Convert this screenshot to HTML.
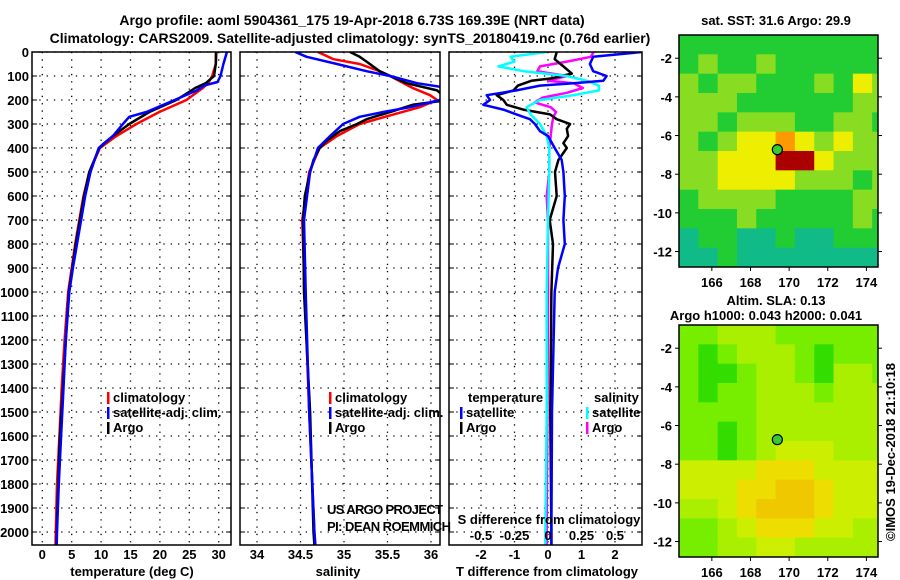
<!DOCTYPE html>
<html><head><meta charset="utf-8">
<style>
html,body{margin:0;padding:0;background:#fff;}
svg{display:block;font-family:"Liberation Sans",Arial,sans-serif;}
.t{font-size:14px;font-weight:bold;}
.lab{font-size:13px;font-weight:bold;}
</style></head>
<body>
<svg id="fig" width="900" height="580" viewBox="0 0 900 580" xmlns="http://www.w3.org/2000/svg">
<text x="352" y="25" text-anchor="middle" class="t">Argo profile: aoml 5904361_175 19-Apr-2018 6.73S 169.39E (NRT data)</text>
<text x="350" y="43" text-anchor="middle" class="t">Climatology: CARS2009. Satellite-adjusted climatology: synTS_20180419.nc (0.76d earlier)</text>
<g id="root"></g>
</svg>
<script>
// ---- data (depth in m) ----
const depthTicks=[0,100,200,300,400,500,600,700,800,900,1000,1100,1200,1300,1400,1500,1600,1700,1800,1900,2000];
const tTicks=[0,5,10,15,20,25,30];
const sTicks=[34,34.5,35,35.5,36];
const sTickLabels=["34","34.5","35","35.5","36"];
const dTicks=[-2,-1,0,1,2];
const dsTicks=[-0.5,-0.25,0,0.25,0.5];
const dsTickLabels=["-0.5","-0.25","0","0.25","0.5"];

const tempArgoDepth=[0,50,100,130,150,200,250,300,350,400,500,600,700,800,900,1000,1200,1400,1600,1800,2000,2054];
const tempArgo=[29.6,29.5,29.2,27.8,26.0,22.8,18.2,14.8,12.0,9.7,8.0,7.1,6.4,5.7,5.1,4.5,4.0,3.5,3.0,2.7,2.45,2.4];
const tempClimDepth=[0,50,100,130,150,200,250,300,350,400,500,600,700,800,900,1000,1200,1400,1600,1800,2000,2054];
const tempClim=[29.5,29.5,28.9,28.2,27.3,24.5,19.9,16.0,12.6,9.8,8.0,7.0,6.3,5.6,5.0,4.4,3.8,3.3,2.9,2.5,2.3,2.25];
const tempSatDepth=[0,50,100,125,140,160,200,250,270,300,350,380,400,500,600,700,800,900,1000,1200,1400,1600,1800,2000,2054];
const tempSat=[31.4,30.8,30.3,29.8,27.5,26.3,22.5,17.7,14.8,13.7,12.0,10.5,9.6,8.2,7.3,6.6,5.9,5.2,4.6,4.0,3.6,3.2,2.8,2.5,2.45];

const salArgoDepth=[0,20,40,80,100,130,160,200,220,250,280,300,330,370,400,450,500,600,700,1000,1500,2000,2054];
const salArgo=[35.07,35.18,35.26,35.41,35.53,35.72,36.07,36.2,35.79,35.53,35.26,35.15,34.95,34.8,34.72,34.65,34.61,34.55,34.53,34.54,34.61,34.65,34.66];
const salClimDepth=[0,30,50,80,100,150,180,200,230,260,300,350,400,500,700,1000,1500,2000,2054];
const salClim=[34.7,34.88,35.18,35.41,35.53,35.79,35.99,36.07,35.87,35.57,35.18,34.92,34.72,34.6,34.52,34.55,34.6,34.66,34.67];
const salSatDepth=[0,20,50,80,100,130,150,180,200,230,250,270,300,350,400,500,700,1000,1500,2000,2054];
const salSat=[34.44,34.57,34.92,35.26,35.53,35.84,36.2,36.2,36.1,35.76,35.45,35.18,34.99,34.84,34.7,34.61,34.54,34.56,34.6,34.66,34.67];

const dTArgoDepth=[0,30,60,90,110,120,140,160,180,200,220,240,260,280,300,320,350,380,400,450,500,600,700,800,1000,1500,2000,2054];
const dTArgo=[0.26,0.2,0.46,0.71,0.1,-0.5,-0.9,-1.03,-1.53,-1.33,-1.23,-0.74,0.06,0.26,0.66,0.56,0.6,0.46,0.56,0.31,0.21,0.26,0.05,0.15,0.1,0.07,0.1,0.1];
const dTSatDepth=[0,20,50,80,100,120,130,140,160,180,200,220,240,260,280,300,330,350,400,450,500,600,700,800,900,1000,1500,2000,2054];
const dTSat=[2.8,1.35,1.25,1.35,1.75,1.65,0.76,-0.24,-0.94,-1.83,-1.73,-1.93,-1.33,-0.94,-0.54,-0.39,-0.24,0,0.2,0.41,0.46,0.5,0.46,0.5,0.3,0.2,0.12,0.1,0.1];
const dSSatDepth=[0,20,40,60,80,100,120,140,160,180,200,230,260,300,350,400,500,700,1000,1500,2000,2054];
const dSSat=[-0.01,-0.28,-0.25,-0.37,-0.18,0.14,0.29,0.38,0.38,0.19,-0.06,-0.16,-0.13,-0.06,-0.01,0.01,0.01,0,-0.01,-0.01,-0.02,-0.02];
const dSArgoDepth=[0,20,40,60,80,100,120,130,150,170,190,210,230,250,270,300,350,400,500,600,700,1000,2000,2054];
const dSArgo=[0.34,0.32,0.14,-0.06,-0.08,0.14,0.0,0.19,0.26,0.14,-0.04,-0.1,0.02,0.06,0.04,0.03,0.02,0.01,0.01,-0.01,0,0,-0.01,-0.01];

// maps: 1-degree cells, rows from lat -0.8 southward, cols from lon 164.3 eastward
const sstLevels=[
[1,1,1,1,1,1,1,1,1,1,1],
[1,2,1,1,2,1,1,1,1,1,1],
[2,1,2,2,1,1,1,2,1,3,2],
[2,2,2,1,1,1,1,1,1,2,2],
[2,2,1,2,2,2,1,1,2,2,1],
[2,1,2,3,3,4,3,2,3,2,2],
[2,2,3,3,3,5,5,3,2,2,2],
[2,2,3,3,3,3,2,2,2,1,2],
[1,2,2,2,2,1,1,1,1,2,2],
[1,1,1,2,1,1,1,1,1,2,1],
[0,1,1,0,0,1,0,0,1,1,1],
[0,0,1,0,0,0,0,0,0,0,0]];
const slaLevels=[
[1,1,2,2,2,1,1,1,1,1,1],
[1,0,1,2,2,2,1,0,1,1,1],
[1,0,0,1,2,2,1,0,2,2,1],
[1,0,1,1,2,2,2,1,2,2,2],
[1,1,1,1,2,2,2,2,2,2,2],
[1,1,0,1,2,2,2,2,2,2,2],
[1,1,0,1,2,3,3,3,2,2,2],
[3,3,3,3,4,4,4,3,3,3,3],
[3,3,3,4,4,5,5,4,3,3,3],
[2,2,3,4,5,5,5,4,3,3,3],
[1,1,2,3,4,4,4,3,3,2,2],
[1,1,2,2,3,3,2,2,2,2,2]];
const lonTicks=[166,168,170,172,174];
const latTicks=[-2,-4,-6,-8,-10,-12];
const floatLon=169.39, floatLat=-6.73;

const NS="http://www.w3.org/2000/svg";
const root=document.getElementById('root');
function el(tag,attrs,parent){const e=document.createElementNS(NS,tag);for(const k in attrs)e.setAttribute(k,attrs[k]);(parent||root).appendChild(e);return e;}
function txt(x,y,s,anchor,cls,parent){const e=el('text',{x:x,y:y,'text-anchor':anchor||'middle','class':cls||'lab'},parent);e.textContent=s;return e;}

const TOP=52, BOT=545;
const yD=d=>TOP+d*0.24;
const xT=t=>42.3+t*5.88;
const xS=s=>257+(s-34)*87;
const xDT=v=>548+v*33.5;
const xDS=v=>548+v*134;

const panels=[{x0:32,x1:231,name:'temperature-panel'},{x0:240,x1:440,name:'salinity-panel'},{x0:449,x1:642,name:'difference-panel'}];
const vgrids=[tTicks.map(xT),sTicks.map(xS),dTicks.map(xDT)];

panels.forEach((p,i)=>{
  const g=el('g',{});
  
  
  const cp=el('clipPath',{id:'cp'+i},g);
  el('rect',{x:p.x0,y:TOP,width:p.x1-p.x0,height:BOT-TOP},cp);
  depthTicks.forEach(d=>{
    const l=el('line',{x1:p.x0,x2:p.x1,y1:yD(d),y2:yD(d),stroke:'#000','stroke-width':1.3,'stroke-dasharray':'1.3,6'},g);
    
    
    el('line',{x1:p.x0,x2:p.x0+5,y1:yD(d),y2:yD(d),stroke:'#000'},g);
    el('line',{x1:p.x1-5,x2:p.x1,y1:yD(d),y2:yD(d),stroke:'#000'},g);
  });
  vgrids[i].forEach(x=>{
    const l=el('line',{x1:x,x2:x,y1:TOP,y2:BOT,stroke:'#000','stroke-width':1.3,'stroke-dasharray':'1.3,6'},g);
    
    
  });
  p.g=g;
});

depthTicks.forEach(d=>{
  const t=txt(29,yD(d)+5,String(d),'end');
  
  
});
tTicks.forEach(v=>{const t=txt(xT(v),559,String(v));});
sTicks.forEach((v,i)=>{const t=txt(xS(v),559,sTickLabels[i]);});
dTicks.forEach(v=>{const t=txt(xDT(v),559,String(v));});
dsTicks.forEach((v,i)=>{const t=txt(xDS(v),540,dsTickLabels[i]);});
let tt=txt(132,576,'temperature (deg C)');
tt=txt(338,576,'salinity');
tt=txt(547,576,'T difference from climatology');
tt=txt(549,524,'S difference from climatology');

function line(pi,xs,ds,xf,color,name){
  const pts=xs.map((v,i)=>xf(v).toFixed(1)+','+yD(ds[i]).toFixed(1)).join(' ');
  const pl=el('polyline',{points:pts,fill:'none',stroke:color,'stroke-width':2.5,'stroke-linejoin':'round','clip-path':'url(#cp'+pi+')'},panels[pi].g);
  
  
}
line(0,tempClim,tempClimDepth,xT,'#ff0000','temperature-climatology-line');
line(0,tempArgo,tempArgoDepth,xT,'#000000','temperature-argo-line');
line(0,tempSat,tempSatDepth,xT,'#0000ff','temperature-satellite-line');
line(1,salClim,salClimDepth,xS,'#ff0000','salinity-climatology-line');
line(1,salArgo,salArgoDepth,xS,'#000000','salinity-argo-line');
line(1,salSat,salSatDepth,xS,'#0000ff','salinity-satellite-line');
line(2,dSArgo,dSArgoDepth,xDS,'#ff00ff','s-diff-argo-line');
line(2,dTArgo,dTArgoDepth,xDT,'#000000','t-diff-argo-line');
line(2,dSSat,dSSatDepth,xDS,'#00ffff','s-diff-satellite-line');
line(2,dTSat,dTSatDepth,xDT,'#0000ff','t-diff-satellite-line');

panels.forEach(p=>{
  const r=el('rect',{x:p.x0,y:TOP,width:p.x1-p.x0,height:BOT-TOP,fill:'none',stroke:'#000','stroke-width':1.5},p.g);
  
  
});

function legend(x,y,color,label,name){
  const g=el('g',{});
  
  
  el('rect',{x:x,y:y-10,width:2.5,height:12,fill:color},g);
  const t=txt(x+6,y,label,'start','lab',g);
  t.setAttribute('font-size','12.5');
}
legend(107,402,'#ff0000','climatology','legend-climatology');
legend(107,417,'#0000ff','satellite-adj. clim.','legend-satellite-adj-clim');
legend(107,432,'#000000','Argo','legend-argo');
legend(329,402,'#ff0000','climatology','legend-sal-climatology');
legend(329,417,'#0000ff','satellite-adj. clim.','legend-sal-satellite');
legend(329,432,'#000000','Argo','legend-sal-argo');
tt=txt(468,402,'temperature','start');
tt=txt(594,402,'salinity','start');
legend(460,417,'#0000ff','satellite','legend-t-satellite');
legend(460,432,'#000000','Argo','legend-t-argo');
legend(586,417,'#00ffff','satellite','legend-s-satellite');
legend(586,432,'#ff00ff','Argo','legend-s-argo');
let c=txt(327,514,'US ARGO PROJECT','start','');c.setAttribute('font-size','11.5');c.setAttribute('textLength','116');
c=txt(327,531,'PI: DEAN ROEMMICH','start','');c.setAttribute('font-size','11.5');c.setAttribute('textLength','124');

// maps
const MX0=679,MX1=878,LON0=164.3,LON1=174.6,LAT0=-0.8,LAT1=-12.8;
const sstColors=['#11bb88','#22cc33','#88dd22','#eeee00','#ff9900','#aa0000'];
const slaColors=['#33dd00','#77ee00','#aaee00','#ccee00','#eedd00','#f0c800'];
function drawMap(top,levels,colors,name,title1,title2){
  const bottom=top+232;
  const mx=lon=>MX0+(lon-LON0)/(LON1-LON0)*(MX1-MX0);
  const my=lat=>top+(LAT0-lat)/(LAT0-LAT1)*(bottom-top);
  const g=el('g',{});
  
  
  levels.forEach((row,r)=>row.forEach((v,cI)=>{
    const lon0=LON0+cI, lon1=Math.min(LON1,LON0+cI+1);
    const la0=LAT0-r, la1=Math.max(LAT1,LAT0-r-1);
    if(lon1<=lon0||la0<=la1) return;
    const cell=el('rect',{x:mx(lon0),y:my(la0),width:mx(lon1)-mx(lon0)+0.5,height:my(la1)-my(la0)+0.5,fill:colors[v]},g);
    
    
  }));
  const fr=el('rect',{x:MX0,y:top,width:MX1-MX0,height:bottom-top,fill:'none',stroke:'#000','stroke-width':1.5},g);
  
  
  const dot=el('circle',{cx:mx(floatLon),cy:my(floatLat),r:5,fill:'#33cc33',stroke:'#000','stroke-width':1.2},g);
  
  
  lonTicks.forEach(v=>{
    el('line',{x1:mx(v),x2:mx(v),y1:bottom,y2:bottom+4,stroke:'#000'},g);
    const t=txt(mx(v),bottom+20,String(v),'middle','lab',g);
    
  });
  latTicks.forEach(v=>{
    el('line',{x1:MX0-4,x2:MX0,y1:my(v),y2:my(v),stroke:'#000'},g);
    el('line',{x1:MX1,x2:MX1+4,y1:my(v),y2:my(v),stroke:'#000'},g);
    const t=txt(MX0-7,my(v)+5,String(v),'end','lab',g);
    
  });
  if(title2){
    let a=txt(776,top-20,title1,'middle','lab',g);
    a=txt(766,top-5,title2,'middle','lab',g);
  } else {
    let a=txt(776,top-10,title1,'middle','lab',g);
  }
}
drawMap(35,sstLevels,sstColors,'sst-map','sat. SST: 31.6 Argo: 29.9');
drawMap(325,slaLevels,slaColors,'sla-map','Altim. SLA: 0.13','Argo h1000: 0.043 h2000: 0.041');
const cr=txt(0,0,'\u00A9IMOS 19-Dec-2018 21:10:18','middle','');
cr.setAttribute('font-size','12');
cr.setAttribute('transform','translate(895,452) rotate(-90)');


</script>
</body></html>
